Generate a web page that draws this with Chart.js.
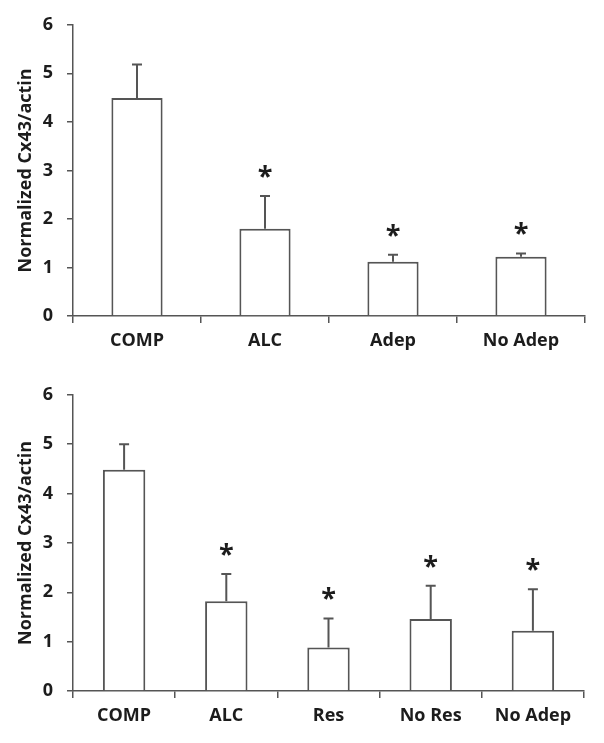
<!DOCTYPE html>
<html>
<head>
<meta charset="utf-8">
<script src="https://cdn.jsdelivr.net/npm/chart.js@4"></script>
<style>
  body { margin: 0; background: #fff; }
  canvas { display: block; }
</style>
</head>
<body>
<canvas id="topChart" width="604" height="370"></canvas>
<canvas id="bottomChart" width="604" height="373"></canvas>
<script>
// top panel
const topCategories = ['COMP', 'ALC', 'Adep', 'No Adep'];
const topMeans = [4.49, 1.80, 1.12, 1.22];
const topErrors = [0.69, 0.67, 0.14, 0.07];
const topSignificant = [false, true, true, true];

// bottom panel
const bottomCategories = ['COMP', 'ALC', 'Res', 'No Res', 'No Adep'];
const bottomMeans = [4.48, 1.82, 0.88, 1.46, 1.22];
const bottomErrors = [0.52, 0.55, 0.59, 0.67, 0.84];
const bottomSignificant = [false, true, true, true, true];

const yMin = 0;
const yMax = 6;
const yStep = 1;
const yTitle = 'Normalized Cx43/actin';

const lineColor = '#555';
const textColor = '#1c1c1c';
const fontFamily = '"Open Sans", sans-serif';

// draws the upper error bars and the significance asterisks
const errorBarPlugin = {
  id: 'errorBars',
  afterDatasetsDraw(chart, args, opts) {
    const ctx = chart.ctx;
    const yScale = chart.scales.y;
    const meta = chart.getDatasetMeta(0);
    ctx.save();
    meta.data.forEach((bar, i) => {
      const top = yScale.getPixelForValue(opts.means[i] + opts.errors[i]);
      ctx.strokeStyle = lineColor;
      ctx.lineWidth = 2;
      ctx.beginPath();
      ctx.moveTo(bar.x, bar.y);
      ctx.lineTo(bar.x, top);
      ctx.moveTo(bar.x - 5, top);
      ctx.lineTo(bar.x + 5, top);
      ctx.stroke();
      if (opts.stars[i]) {
        ctx.fillStyle = textColor;
        ctx.font = 'bold 27px ' + fontFamily;
        ctx.textAlign = 'center';
        ctx.textBaseline = 'alphabetic';
        ctx.fillText('*', bar.x, top - 11);
      }
    });
    ctx.restore();
  }
};

function makeChart(id, categories, means, errors, stars, layout) {
  const ctx = document.getElementById(id).getContext('2d');
  return new Chart(ctx, {
    type: 'bar',
    data: {
      labels: categories,
      datasets: [{
        data: means,
        backgroundColor: '#fff',
        borderColor: lineColor,
        borderWidth: 2,
        barPercentage: layout.barPercentage,
        categoryPercentage: 1
      }]
    },
    options: {
      responsive: false,
      animation: false,
      devicePixelRatio: 1,
      layout: { padding: { top: layout.top, right: layout.right, left: 0, bottom: 0 } },
      plugins: {
        legend: { display: false },
        tooltip: { enabled: false },
        errorBars: { means: means, errors: errors, stars: stars }
      },
      scales: {
        x: {
          grid: { display: true, drawOnChartArea: false, tickLength: 7, color: lineColor, lineWidth: 1.5, offset: true },
          border: { display: true, color: lineColor, width: 1.5 },
          ticks: { color: textColor, padding: 7, font: { family: fontFamily, size: 18, weight: 'bold' } },
          afterFit(scale) { scale.height = layout.xHeight; }
        },
        y: {
          min: yMin,
          max: yMax,
          grid: { display: true, drawOnChartArea: false, tickLength: 6, color: lineColor, lineWidth: 1.5 },
          border: { display: true, color: lineColor, width: 1.5 },
          ticks: { stepSize: yStep, color: textColor, padding: 14, font: { family: fontFamily, size: 18, weight: 'bold' } },
          title: {
            display: true,
            text: yTitle,
            color: textColor,
            padding: { top: 15, bottom: 0 },
            font: { family: fontFamily, size: 18, weight: 'bold' }
          },
          afterFit(scale) { scale.width = 73; }
        }
      }
    },
    plugins: [errorBarPlugin]
  });
}

makeChart('topChart', topCategories, topMeans, topErrors, topSignificant,
  { top: 15, right: 19, xHeight: 54, barPercentage: 0.4 });
makeChart('bottomChart', bottomCategories, bottomMeans, bottomErrors, bottomSignificant,
  { top: 19, right: 20, xHeight: 52, barPercentage: 0.415 });
</script>
</body>
</html>
